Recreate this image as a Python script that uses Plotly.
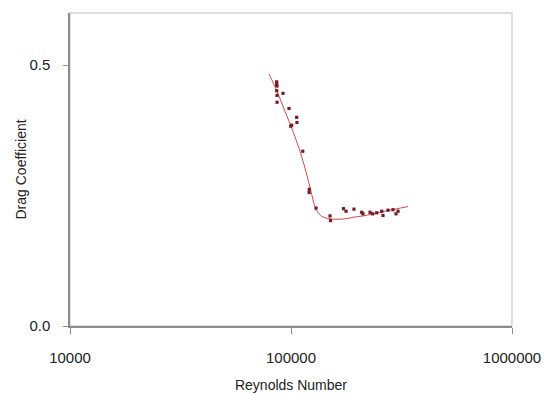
import plotly.graph_objects as go

# Measured points (Reynolds number, drag coefficient)
reynolds = [86150, 86150, 86440, 86150, 86440, 86440, 92000, 97950, 106100, 106400,
            100700, 99700, 113000, 121000, 120800, 129800, 150200, 151000, 172800,
            177400, 192800, 208900, 211700, 227800, 234300, 244200, 257300, 260800,
            274800, 289400, 298700, 305000]
drag = [0.468, 0.463, 0.460, 0.451, 0.442, 0.429, 0.446, 0.417, 0.400, 0.390,
        0.385, 0.383, 0.335, 0.262, 0.256, 0.226, 0.211, 0.202, 0.225,
        0.220, 0.224, 0.218, 0.215, 0.218, 0.215, 0.217, 0.220, 0.212,
        0.222, 0.223, 0.215, 0.220]

# Trend curve
trend_re = [79540, 86440, 93960, 102100, 109800, 116900, 123200, 128400, 133900,
            141100, 153300, 171900, 194800, 216200, 252700, 295500, 338300]
trend_cd = [0.483, 0.450, 0.4115, 0.373, 0.335, 0.296, 0.258, 0.229, 0.215,
            0.208, 0.205, 0.205, 0.209, 0.2115, 0.218, 0.224, 0.229]

x_ticks = [10000, 100000, 1000000]
x_tick_labels = ["10000", "100000", "1000000"]
y_ticks = [0.0, 0.5]
y_tick_labels = ["0.0", "0.5"]

fig = go.Figure()
fig.add_trace(go.Scatter(x=trend_re, y=trend_cd, mode="lines",
                         line=dict(color="#d8484a", width=1), line_shape="spline",
                         showlegend=False, hoverinfo="skip"))
fig.add_trace(go.Scatter(x=reynolds, y=drag, mode="markers",
                         marker=dict(symbol="square", size=3.2, color="#7a1826"),
                         showlegend=False))

fig.add_shape(type="rect", xref="paper", yref="paper", x0=0, y0=0, x1=1, y1=1,
              line=dict(color="#d4d4d4", width=1.5), layer="below")

fig.add_annotation(text="Drag Coefficient", xref="paper", yref="paper",
                   x=0, y=0.5, xshift=-50, textangle=-90, showarrow=False,
                   xanchor="center", yanchor="middle",
                   font=dict(size=14, color="#222222"))

font = dict(family="Liberation Sans, Arial, sans-serif", size=15, color="#222222")

fig.update_layout(
    width=544, height=394,
    margin=dict(l=70, r=32, t=13, b=68),
    paper_bgcolor="white", plot_bgcolor="white",
    font=font,
    xaxis=dict(type="log", range=[4, 6], tickvals=x_ticks, ticktext=x_tick_labels,
               automargin=False,
               showgrid=False, zeroline=False, showline=True, linecolor="#8c8c8c",
               linewidth=1.5, ticks="outside", ticklen=6, tickcolor="#8c8c8c",
               ticklabelstandoff=11,
               title=dict(text="Reynolds Number", standoff=15, font=dict(size=14))),
    yaxis=dict(range=[0, 0.6], tickvals=y_ticks, ticktext=y_tick_labels,
               automargin=False,
               showgrid=False, zeroline=False, showline=True, linecolor="#8c8c8c",
               linewidth=1.5, ticks="outside", ticklen=5, tickcolor="#8c8c8c",
               ticklabelstandoff=10),
)

fig.write_html("out.html", config={"displayModeBar": False},
               post_script="document.body.style.margin='0';document.body.style.overflow='hidden';")
